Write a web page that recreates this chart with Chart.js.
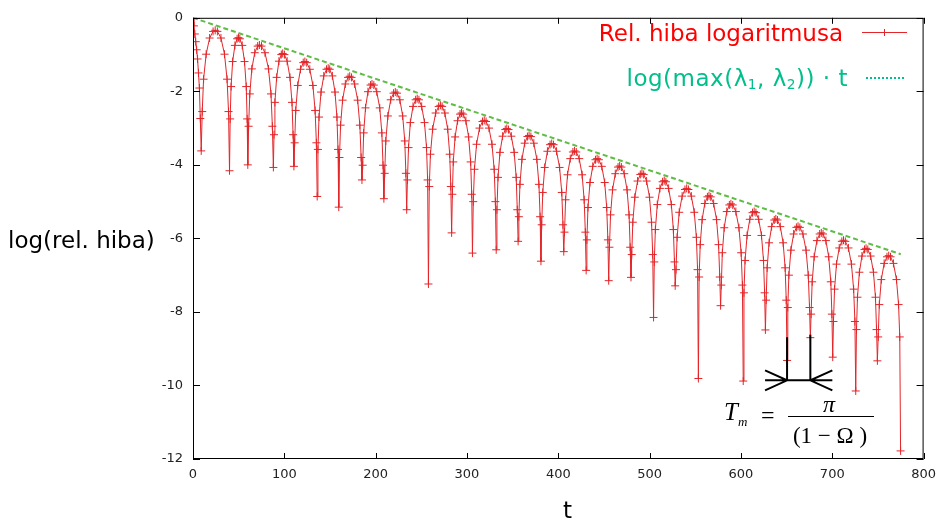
<!DOCTYPE html>
<html>
<head>
<meta charset="utf-8">
<script src="https://cdn.jsdelivr.net/npm/chart.js@4.4.1/dist/chart.umd.min.js"></script>
<style>
  body { margin: 0; background: #fff; }
  #wrap { position: relative; width: 944px; height: 521px; overflow: hidden; }
  canvas { position: absolute; left: 0; top: 0; }
  .lbl { position: absolute; font-family: "DejaVu Sans", sans-serif; white-space: nowrap; line-height: 1; }
  .serif { position: absolute; font-family: "Liberation Serif", "Times New Roman", serif; white-space: nowrap; line-height: 1; color: #000; }
  sub { font-size: 0.6em; vertical-align: -0.2em; line-height: 0; }
</style>
</head>
<body>
<div id="wrap">
  <canvas id="chart" width="944" height="521"></canvas>
  <div class="lbl" id="ytitle" style="left:8px;top:229px;font-size:23px;color:#000">log(rel. hiba)</div>
  <div class="lbl" id="xtitle" style="left:563px;top:499px;font-size:23px;color:#000">t</div>
  <div class="lbl" style="right:101px;top:22px;font-size:23px;color:#ff0000">Rel. hiba logaritmusa</div>
  <div class="lbl" style="right:96px;top:67px;font-size:23px;letter-spacing:0.5px;color:#00bf8c">log(max(λ<sub>1</sub>, λ<sub>2</sub>)) · t</div>
  <div class="serif" style="left:724px;top:399px;font-size:25px;font-style:italic">T<span style="font-size:13px;vertical-align:-6px">m</span></div>
  <div class="serif" style="left:761px;top:403px;font-size:24px">=</div>
  <div class="serif" style="left:786px;top:392px;width:86px;text-align:center;font-size:24px;font-style:italic">π</div>
  <div style="position:absolute;left:788px;top:416px;width:86px;height:0;border-top:1px solid #000"></div>
  <div class="serif" style="left:787px;top:424px;width:86px;text-align:center;font-size:23px">(1 − Ω )</div>
</div>
<script>
// t values of the relative error curve
const errT = [
  0, 1, 2, 3, 4, 5, 6, 7, 8, 9,
  10.1, 11.6, 14.4, 18.2, 22.0, 24.3, 26.7, 30.6, 34.5, 37.3, 38.9, 40,
  40.7, 41.7, 43.4, 45.9, 48.3, 49.8, 51.3, 53.9, 56.4, 58.3, 59.3, 60,
  60.9, 62.2, 64.4, 67.6, 70.8, 72.7, 75.0, 78.8, 82.7, 85.4, 86.9, 88,
  88.7, 89.7, 91.6, 94.1, 96.7, 98.2, 100.1, 103.1, 106.2, 108.4, 109.6, 110.5,
  111.3, 112.5, 114.7, 117.7, 120.7, 122.5, 124.5, 127.9, 131.3, 133.7, 135.1, 136,
  136.8, 138.0, 140.2, 143.2, 146.2, 148, 149.7, 152.6, 155.5, 157.6, 158.8, 159.6,
  160.4, 161.6, 163.8, 166.8, 169.8, 171.6, 173.6, 177.0, 180.3, 182.7, 184.1, 185,
  185.8, 186.9, 188.9, 191.6, 194.4, 196, 198.0, 201.2, 204.5, 206.8, 208.1, 209,
  209.9, 211.1, 213.4, 216.5, 219.6, 221.5, 223.4, 226.5, 229.6, 231.9, 233.1, 234,
  234.8, 236.0, 238.0, 240.9, 243.8, 245.5, 247.4, 250.4, 253.5, 255.7, 256.9, 257.8,
  258.7, 260.0, 262.4, 265.7, 269.0, 270.9, 272.8, 275.8, 278.9, 281.1, 282.3, 283.2,
  284.0, 285.0, 287.0, 289.7, 292.4, 294, 295.8, 298.8, 301.8, 304.0, 305.2, 306,
  306.9, 308.2, 310.5, 313.7, 317.0, 318.9, 320.9, 324.1, 327.4, 329.8, 331.1, 332,
  332.8, 334.0, 336.1, 339.0, 341.9, 343.6, 345.5, 348.6, 351.7, 353.9, 355.1, 356,
  356.8, 358.0, 360.2, 363.2, 366.2, 368, 370.0, 373.2, 376.5, 378.8, 380.1, 381,
  381.8, 383.0, 385.1, 388.1, 391.0, 392.8, 394.8, 398.1, 401.4, 403.8, 405.1, 406,
  406.8, 408.0, 410.1, 413.1, 416.0, 417.8, 419.7, 422.9, 426.1, 428.3, 429.6, 430.5,
  431.3, 432.5, 434.7, 437.7, 440.7, 442.5, 444.4, 447.6, 450.8, 453.0, 454.3, 455.2,
  456.0, 457.2, 459.4, 462.4, 465.4, 467.2, 469.1, 472.2, 475.3, 477.5, 478.7, 479.6,
  480.4, 481.6, 483.8, 486.8, 489.8, 491.6, 493.5, 496.7, 499.9, 502.1, 503.4, 504.3,
  505.1, 506.3, 508.4, 511.3, 514.2, 516, 517.8, 520.8, 523.8, 526.0, 527.2, 528,
  528.9, 530.1, 532.4, 535.6, 538.7, 540.6, 542.5, 545.7, 548.9, 551.2, 552.5, 553.4,
  554.2, 555.4, 557.5, 560.4, 563.3, 565, 566.9, 570.1, 573.3, 575.5, 576.8, 577.7,
  578.5, 579.6, 581.7, 584.5, 587.3, 589, 591.0, 594.4, 597.8, 600.2, 601.6, 602.5,
  603.3, 604.5, 606.7, 609.7, 612.7, 614.5, 616.4, 619.4, 622.5, 624.7, 625.9, 626.8,
  627.6, 628.7, 630.8, 633.6, 636.5, 638.2, 640.0, 643.1, 646.2, 648.4, 649.6, 650.5,
  651.3, 652.5, 654.7, 657.7, 660.7, 662.5, 664.5, 667.9, 671.3, 673.7, 675.1, 676,
  676.8, 678.0, 680.2, 683.2, 686.2, 688, 689.9, 693.0, 696.1, 698.4, 699.6, 700.5,
  701.3, 702.5, 704.6, 707.6, 710.5, 712.3, 714.3, 717.7, 721.0, 723.4, 724.8, 725.7,
  726.5, 727.6, 729.7, 732.5, 735.3, 737, 738.9, 742.0, 745.1, 747.3, 748.5, 749.4,
  750.3, 751.5, 753.7, 756.8, 759.9, 761.8, 763.8, 767.0, 770.3, 772.6, 773.9, 774.8
];
// log of the relative error at those t values
const errY = [
  0, -0.22, -0.44, -0.65, -0.87, -1.12, -1.5, -1.91, -2.74, -3.62,
  -2.55, -1.67, -0.99, -0.55, -0.37, -0.34, -0.37, -0.55, -0.99, -1.67, -2.55, -4.16,
  -2.75, -1.87, -1.19, -0.75, -0.57, -0.54, -0.57, -0.75, -1.19, -1.87, -2.75, -4.0,
  -2.95, -2.07, -1.39, -0.95, -0.77, -0.74, -0.77, -0.95, -1.39, -2.07, -2.95, -4.07,
  -3.18, -2.30, -1.62, -1.18, -1.00, -0.97, -1.00, -1.18, -1.62, -2.30, -3.18, -4.04,
  -3.40, -2.52, -1.84, -1.40, -1.22, -1.19, -1.22, -1.40, -1.84, -2.52, -3.40, -4.86,
  -3.58, -2.70, -2.02, -1.58, -1.40, -1.37, -1.40, -1.58, -2.02, -2.70, -3.58, -5.15,
  -3.80, -2.92, -2.24, -1.80, -1.62, -1.59, -1.62, -1.80, -2.24, -2.92, -3.80, -4.41,
  -4.01, -3.13, -2.45, -2.01, -1.83, -1.80, -1.83, -2.01, -2.45, -3.13, -4.01, -4.92,
  -4.23, -3.35, -2.67, -2.23, -2.05, -2.02, -2.05, -2.23, -2.67, -3.35, -4.23, -5.22,
  -4.41, -3.53, -2.85, -2.41, -2.23, -2.20, -2.23, -2.41, -2.85, -3.53, -4.41, -7.24,
  -4.59, -3.71, -3.03, -2.59, -2.41, -2.38, -2.41, -2.59, -3.03, -3.71, -4.59, -5.85,
  -4.80, -3.92, -3.24, -2.80, -2.62, -2.59, -2.62, -2.80, -3.24, -3.92, -4.80, -6.4,
  -5.00, -4.12, -3.44, -3.00, -2.82, -2.79, -2.82, -3.00, -3.44, -4.12, -5.00, -6.31,
  -5.22, -4.34, -3.66, -3.22, -3.04, -3.01, -3.04, -3.22, -3.66, -4.34, -5.22, -6.08,
  -5.41, -4.53, -3.85, -3.41, -3.23, -3.20, -3.23, -3.41, -3.85, -4.53, -5.41, -6.62,
  -5.63, -4.75, -4.07, -3.63, -3.45, -3.42, -3.45, -3.63, -4.07, -4.75, -5.63, -6.36,
  -5.83, -4.95, -4.27, -3.83, -3.65, -3.62, -3.65, -3.83, -4.27, -4.95, -5.83, -6.87,
  -6.04, -5.16, -4.48, -4.04, -3.86, -3.83, -3.86, -4.04, -4.48, -5.16, -6.04, -7.15,
  -6.24, -5.36, -4.68, -4.24, -4.06, -4.03, -4.06, -4.24, -4.68, -5.36, -6.24, -7.06,
  -6.44, -5.56, -4.88, -4.44, -4.26, -4.23, -4.26, -4.44, -4.88, -5.56, -6.44, -8.15,
  -6.64, -5.76, -5.08, -4.64, -4.46, -4.43, -4.46, -4.64, -5.08, -5.76, -6.64, -7.29,
  -6.85, -5.97, -5.29, -4.85, -4.67, -4.64, -4.67, -4.85, -5.29, -5.97, -6.85, -9.81,
  -7.05, -6.17, -5.49, -5.05, -4.87, -4.84, -4.87, -5.05, -5.49, -6.17, -7.05, -7.83,
  -7.27, -6.39, -5.71, -5.27, -5.09, -5.06, -5.09, -5.27, -5.71, -6.39, -7.27, -9.88,
  -7.48, -6.60, -5.92, -5.48, -5.30, -5.27, -5.30, -5.48, -5.92, -6.60, -7.48, -8.49,
  -7.68, -6.80, -6.12, -5.68, -5.50, -5.47, -5.50, -5.68, -6.12, -6.80, -7.68, -9.32,
  -7.88, -7.00, -6.32, -5.88, -5.70, -5.67, -5.70, -5.88, -6.32, -7.00, -7.88, -8.7,
  -8.06, -7.18, -6.50, -6.06, -5.88, -5.85, -5.88, -6.06, -6.50, -7.18, -8.06, -9.23,
  -8.26, -7.38, -6.70, -6.26, -6.08, -6.05, -6.08, -6.26, -6.70, -7.38, -8.26, -10.15,
  -8.48, -7.60, -6.92, -6.48, -6.30, -6.27, -6.30, -6.48, -6.92, -7.60, -8.48, -9.33,
  -8.68, -7.80, -7.12, -6.68, -6.50, -6.47, -6.50, -6.68, -7.12, -7.80, -8.68, -11.78
];
// log(max(l1, l2)) * t : straight line
const boundT = [0, 775];
const boundY = [0, -6.43];

const xTicks = [0, 100, 200, 300, 400, 500, 600, 700, 800];
const yTicks = [0, -2, -4, -6, -8, -10, -12];

// T_m marker between two dips
const tmStart = 650.5, tmEnd = 676;

const RED = '#e3262a';
const GREEN = '#5dbd45';
const TEAL = '#00bf8c';

const framePlugin = {
  id: 'frame',
  afterDraw(chart) {
    const { ctx, chartArea: a, scales: { x, y } } = chart;
    ctx.save();
    ctx.strokeStyle = '#000';
    ctx.lineWidth = 1;
    ctx.strokeRect(a.left + 0.5, a.top + 0.5, a.right - a.left - 1, a.bottom - a.top - 1);
    ctx.beginPath();
    xTicks.forEach(v => {
      const px = Math.round(x.getPixelForValue(v)) + 0.5;
      ctx.moveTo(px, a.bottom); ctx.lineTo(px, a.bottom - 6);
      ctx.moveTo(px, a.top); ctx.lineTo(px, a.top + 6);
    });
    yTicks.forEach(v => {
      const py = Math.round(y.getPixelForValue(v)) + 0.5;
      ctx.moveTo(a.left, py); ctx.lineTo(a.left + 7, py);
      ctx.moveTo(a.right, py); ctx.lineTo(a.right - 7, py);
    });
    ctx.stroke();

    // legend samples
    ctx.strokeStyle = RED;
    ctx.beginPath();
    ctx.moveTo(862, 32.5); ctx.lineTo(907, 32.5);
    ctx.moveTo(884.5, 29); ctx.lineTo(884.5, 36);
    ctx.stroke();
    ctx.strokeStyle = TEAL;
    ctx.lineWidth = 2;
    ctx.setLineDash([2, 2]);
    ctx.beginPath();
    ctx.moveTo(866, 78); ctx.lineTo(906, 78);
    ctx.stroke();
    ctx.setLineDash([]);

    // T_m annotation
    const x1 = x.getPixelForValue(tmStart), x2 = x.getPixelForValue(tmEnd);
    const yb = y.getPixelForValue(-9.86);
    ctx.strokeStyle = '#000';
    ctx.lineWidth = 2;
    ctx.beginPath();
    ctx.moveTo(x1, y.getPixelForValue(-8.69)); ctx.lineTo(x1, yb);
    ctx.moveTo(x2, y.getPixelForValue(-8.62)); ctx.lineTo(x2, yb);
    ctx.moveTo(x1 - 22, yb); ctx.lineTo(x2 + 22, yb);
    ctx.moveTo(x1 - 22, yb - 10); ctx.lineTo(x1, yb); ctx.lineTo(x1 - 22, yb + 10);
    ctx.moveTo(x2 + 22, yb - 10); ctx.lineTo(x2, yb); ctx.lineTo(x2 + 22, yb + 10);
    ctx.stroke();
    ctx.restore();
  }
};

new Chart(document.getElementById('chart'), {
  type: 'line',
  data: {
    datasets: [
      {
        label: 'Rel. hiba logaritmusa',
        data: errT.map((t, i) => ({ x: t, y: errY[i] })),
        borderColor: RED,
        borderWidth: 1,
        pointStyle: 'cross',
        pointRadius: 4,
        pointBorderWidth: 1,
        pointBorderColor: RED,
        tension: 0,
        fill: false
      },
      {
        label: 'log(max(λ1, λ2)) · t',
        data: boundT.map((t, i) => ({ x: t, y: boundY[i] })),
        borderColor: GREEN,
        borderWidth: 2,
        borderDash: [5, 3],
        pointRadius: 0,
        fill: false
      }
    ]
  },
  options: {
    responsive: false,
    animation: false,
    layout: { padding: { left: 0, top: 15, right: 15, bottom: 32 } },
    plugins: { legend: { display: false }, tooltip: { enabled: false } },
    scales: {
      x: {
        type: 'linear',
        min: 0, max: 800,
        grid: { display: false, drawTicks: false },
        border: { display: false },
        ticks: { stepSize: 100, padding: 8, color: '#222', font: { family: 'DejaVu Sans', size: 13 } },
        afterFit: s => { s.height = 30; }
      },
      y: {
        min: -12, max: 0,
        grid: { display: false, drawTicks: false },
        border: { display: false },
        ticks: { stepSize: 2, padding: 10, color: '#222', font: { family: 'DejaVu Sans', size: 13 } },
        afterFit: s => { s.width = 193; }
      }
    }
  },
  plugins: [framePlugin]
});
</script>
</body>
</html>
